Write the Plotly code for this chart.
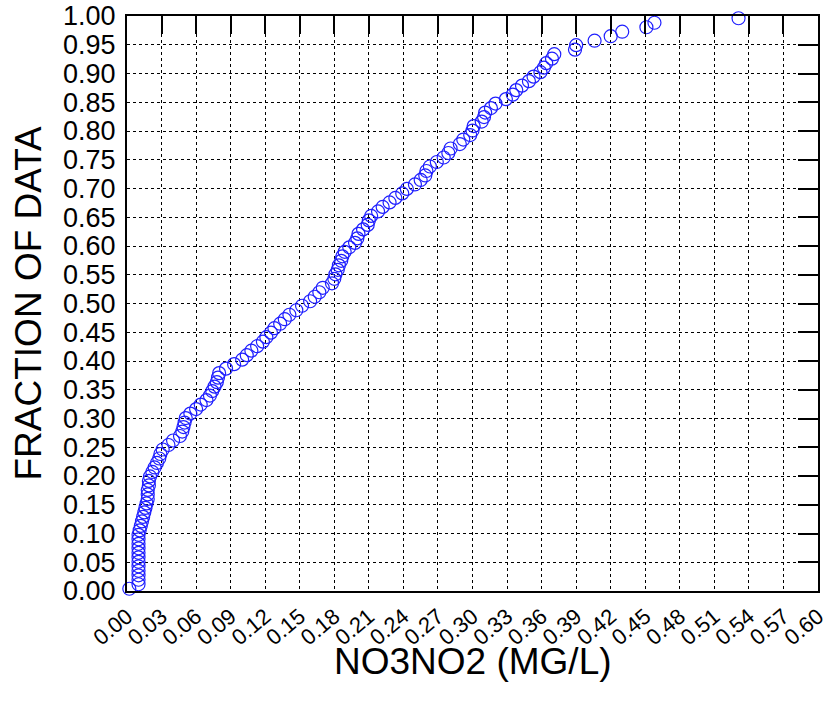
import numpy as np
import plotly.graph_objects as go

# ============================================================
# DATA (sorted NO3NO2 values, plotting position (i+0.5)/n)
# ============================================================

no3no2 = [
    0.002, 0.010, 0.010, 0.010, 0.010, 0.010, 0.010, 0.010, 0.010, 0.010,
    0.010, 0.010, 0.010, 0.011, 0.012, 0.013, 0.014, 0.015, 0.016, 0.017,
    0.018, 0.018, 0.018, 0.019, 0.019, 0.020, 0.022, 0.024, 0.026, 0.028,
    0.029, 0.031, 0.036, 0.040, 0.046, 0.048, 0.049, 0.050, 0.051, 0.055,
    0.060, 0.064, 0.069, 0.072, 0.074, 0.076, 0.078, 0.079, 0.080, 0.086,
    0.093, 0.100, 0.104, 0.108, 0.113, 0.118, 0.121, 0.125, 0.128, 0.133,
    0.137, 0.141, 0.147, 0.152, 0.159, 0.163, 0.167, 0.170, 0.178, 0.180,
    0.181, 0.183, 0.184, 0.186, 0.187, 0.189, 0.193, 0.198, 0.200, 0.201,
    0.205, 0.209, 0.210, 0.212, 0.218, 0.222, 0.228, 0.233, 0.239, 0.243,
    0.250, 0.255, 0.259, 0.260, 0.263, 0.269, 0.275, 0.279, 0.281, 0.289,
    0.292, 0.298, 0.300, 0.301, 0.308, 0.310, 0.311, 0.316, 0.320, 0.329,
    0.335, 0.338, 0.343, 0.349, 0.353, 0.359, 0.362, 0.364, 0.369, 0.371,
    0.389, 0.390, 0.406, 0.420, 0.430, 0.451, 0.458, 0.531,
]

n = len(no3no2)
fraction = [(i + 0.5) / n for i in range(n)]

x_ticks = [round(0.03 * k, 2) for k in range(21)]
y_ticks = [round(0.05 * k, 2) for k in range(21)]

# ============================================================
# FIGURE
# ============================================================

FONT = "Liberation Sans, Arial, sans-serif"
W, H = 830, 710
L, R, T, B = 127, 12, 16, 119

fig = go.Figure()

fig.add_trace(go.Scatter(
    x=no3no2, y=fraction, mode="markers", cliponaxis=False,
    marker=dict(symbol="circle-open", size=13, color="#1f1fff",
                line=dict(width=1.2, color="#1f1fff")),
    showlegend=False, hoverinfo="x+y"
))

# dummy trace so the top/right axes (inside ticks) get drawn
fig.add_trace(go.Scatter(x=[None], y=[None], xaxis="x2", yaxis="y2",
                         showlegend=False, hoverinfo="skip"))

axis_common = dict(showline=True, linecolor="black", linewidth=2,
                   showgrid=True, gridcolor="black", gridwidth=1.4,
                   griddash="dot", zeroline=False, automargin=False)

fig.update_layout(
    width=W, height=H,
    margin=dict(l=L, r=R, t=T, b=B),
    plot_bgcolor="white", paper_bgcolor="white",
    font=dict(family=FONT, color="black"),
    xaxis=dict(range=[0, 0.6], tickvals=x_ticks,
               ticktext=[f"{v:.2f}" for v in x_ticks],
               tickangle=-40, tickfont=dict(size=22),
               ticks="outside", ticklen=2, tickcolor="rgba(0,0,0,0)",
               mirror=True, **axis_common),
    yaxis=dict(range=[0, 1.0], tickvals=y_ticks,
               ticktext=[f"{v:.2f}" for v in y_ticks],
               tickfont=dict(size=27), ticks="outside", ticklen=4,
               tickcolor="rgba(0,0,0,0)", mirror=True,
               **axis_common),
    xaxis2=dict(range=[0, 0.6], tickvals=x_ticks, overlaying="x",
                side="top", ticks="inside", ticklen=18, tickwidth=2,
                tickcolor="black", showticklabels=False, showgrid=False,
                zeroline=False, showline=False, automargin=False),
    yaxis2=dict(range=[0, 1.0], tickvals=y_ticks, overlaying="y",
                side="right", ticks="inside", ticklen=20, tickwidth=2,
                tickcolor="black", showticklabels=False, showgrid=False,
                zeroline=False, showline=False, automargin=False),
    annotations=[
        dict(text="FRACTION OF DATA", xref="paper", yref="paper",
             x=(28 - L) / (W - L - R), y=0.5, xanchor="center",
             yanchor="middle", textangle=-90, showarrow=False,
             font=dict(size=37, family=FONT)),
        dict(text="NO3NO2 (MG/L)", xref="paper", yref="paper",
             x=0.5, y=-(661 - (H - B)) / (H - T - B), xanchor="center",
             yanchor="middle", showarrow=False,
             font=dict(size=37, family=FONT)),
    ],
)

# page body has a default margin; drop it so the figure fills the window
fig.write_html("out.html", config={"displayModeBar": False},
               post_script="document.body.style.margin='0';"
                           "document.body.style.overflow='hidden';")
